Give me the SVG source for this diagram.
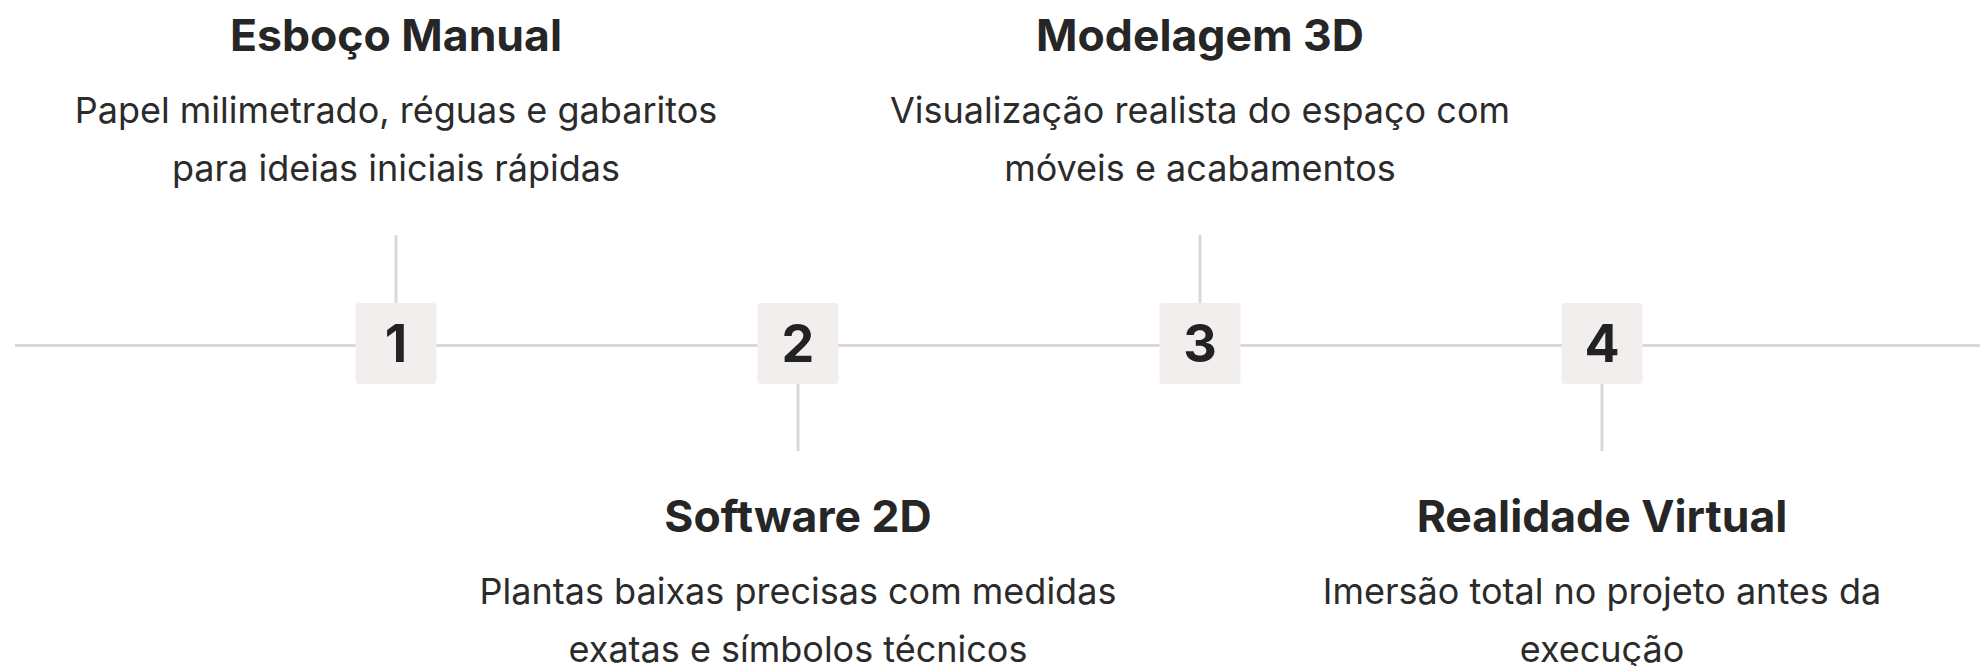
<svg xmlns="http://www.w3.org/2000/svg" width="1983" height="666" viewBox="0 0 1983 666">
<style>
.t{font-family:Inter,"Noto Sans","Liberation Sans",sans-serif;font-weight:700;font-size:44.5px;fill:#262626;text-anchor:middle}
.d{font-family:Inter,"Noto Sans","Liberation Sans",sans-serif;font-weight:400;font-size:36px;fill:#2b2b2b;text-anchor:middle}
.n{font-family:Inter,"Noto Sans","Liberation Sans",sans-serif;font-weight:700;font-size:52px;fill:#222;text-anchor:middle}
.box{fill:#f1eeed}
.ln{stroke:#dcd8d6;stroke-width:3;fill:none}
</style>
<rect width="1983" height="666" fill="#fff"/>
<g id="connectors">
<line class="ln" x1="15" y1="345.5" x2="1980" y2="345.5"/>
<line class="ln" x1="396" y1="235" x2="396" y2="304"/>
<line class="ln" x1="798" y1="384" x2="798" y2="451"/>
<line class="ln" x1="1200" y1="235" x2="1200" y2="304"/>
<line class="ln" x1="1602" y1="384" x2="1602" y2="451"/>
</g>
<g id="step1">
<rect class="box" x="355.5" y="303" width="81" height="81" rx="4"/>
<text class="n" x="396" y="362">1</text>
<text class="t" x="396" y="51">Esboço Manual</text>
<text class="d" x="396" y="123">Papel milimetrado, réguas e gabaritos</text>
<text class="d" x="396" y="181">para ideias iniciais rápidas</text>
</g>
<g id="step2">
<rect class="box" x="757.5" y="303" width="81" height="81" rx="4"/>
<text class="n" x="798" y="362">2</text>
<text class="t" x="798" y="532">Software 2D</text>
<text class="d" x="798" y="604">Plantas baixas precisas com medidas</text>
<text class="d" x="798" y="662">exatas e símbolos técnicos</text>
</g>
<g id="step3">
<rect class="box" x="1159.5" y="303" width="81" height="81" rx="4"/>
<text class="n" x="1200" y="362">3</text>
<text class="t" x="1200" y="51">Modelagem 3D</text>
<text class="d" x="1200" y="123">Visualização realista do espaço com</text>
<text class="d" x="1200" y="181">móveis e acabamentos</text>
</g>
<g id="step4">
<rect class="box" x="1561.5" y="303" width="81" height="81" rx="4"/>
<text class="n" x="1602" y="362">4</text>
<text class="t" x="1602" y="532">Realidade Virtual</text>
<text class="d" x="1602" y="604">Imersão total no projeto antes da</text>
<text class="d" x="1602" y="662">execução</text>
</g>
</svg>
